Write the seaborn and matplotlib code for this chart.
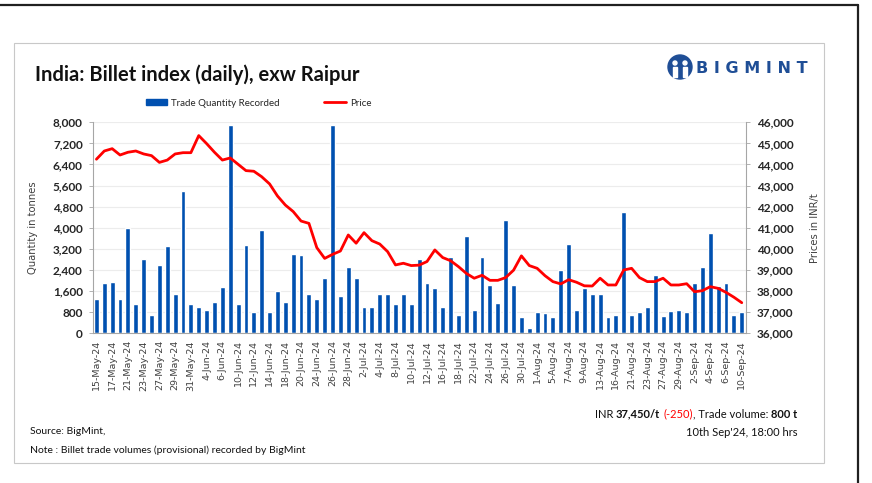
import numpy as np
import pandas as pd
import matplotlib.pyplot as plt
import matplotlib.patches as mpatches
from matplotlib.lines import Line2D
from matplotlib.offsetbox import TextArea, HPacker, AnchoredOffsetbox
import seaborn as sns

# --- DONNÉES ---
dates = [
    "15-May-24", "16-May-24", "17-May-24", "20-May-24", "21-May-24", "22-May-24", "23-May-24",
    "24-May-24", "27-May-24", "28-May-24", "29-May-24", "30-May-24", "31-May-24", "3-Jun-24",
    "4-Jun-24", "5-Jun-24", "6-Jun-24", "7-Jun-24", "10-Jun-24", "11-Jun-24", "12-Jun-24",
    "13-Jun-24", "14-Jun-24", "17-Jun-24", "18-Jun-24", "19-Jun-24", "20-Jun-24", "21-Jun-24",
    "24-Jun-24", "25-Jun-24", "26-Jun-24", "27-Jun-24", "28-Jun-24", "1-Jul-24", "2-Jul-24",
    "3-Jul-24", "4-Jul-24", "5-Jul-24", "8-Jul-24", "9-Jul-24", "10-Jul-24", "11-Jul-24",
    "12-Jul-24", "15-Jul-24", "16-Jul-24", "17-Jul-24", "18-Jul-24", "19-Jul-24", "22-Jul-24",
    "23-Jul-24", "24-Jul-24", "25-Jul-24", "26-Jul-24", "29-Jul-24", "30-Jul-24", "31-Jul-24",
    "1-Aug-24", "2-Aug-24", "5-Aug-24", "6-Aug-24", "7-Aug-24", "8-Aug-24", "9-Aug-24",
    "12-Aug-24", "13-Aug-24", "14-Aug-24", "16-Aug-24", "20-Aug-24", "21-Aug-24", "22-Aug-24",
    "23-Aug-24", "26-Aug-24", "27-Aug-24", "28-Aug-24", "29-Aug-24", "30-Aug-24", "2-Sep-24",
    "3-Sep-24", "4-Sep-24", "5-Sep-24", "6-Sep-24", "9-Sep-24", "10-Sep-24",
]

qty = [
    1300, 1900, 1950, 1300, 4000, 1100, 2800, 700, 2600, 3300,
    1500, 5400, 1100, 1000, 900, 1200, 1750, 7900, 1100, 3350,
    800, 3900, 800, 1600, 1200, 3000, 2950, 1500, 1300, 2100,
    7900, 1400, 2500, 2100, 1000, 1000, 1500, 1500, 1100, 1500,
    1100, 2800, 1900, 1700, 1000, 2900, 700, 3700, 900, 2900,
    1850, 1150, 4300, 1850, 600, 200, 800, 780, 600, 2400,
    3400, 900, 1700, 1500, 1480, 600, 700, 4600, 700, 800,
    1000, 2200, 650, 850, 900, 800, 1900, 2500, 3800, 1800,
    1900, 700, 800,
]

price = [
    44250, 44640, 44750, 44450, 44580, 44640, 44500, 44420, 44100, 44210,
    44500, 44560, 44560, 45370, 44990, 44580, 44210, 44310, 44010, 43710,
    43680, 43420, 43080, 42510, 42080, 41770, 41320, 41210, 40060, 39550,
    39740, 39900, 40660, 40270, 40770, 40390, 40230, 39870, 39240, 39320,
    39210, 39230, 39400, 39950, 39590, 39440, 39160, 38840, 38610, 38750,
    38510, 38510, 38640, 38990, 39670, 39210, 39080, 38730, 38450, 38340,
    38540, 38420, 38250, 38240, 38610, 38290, 38290, 39000, 39080, 38640,
    38450, 38450, 38610, 38290, 38290, 38350, 37970, 38020, 38210, 38130,
    37940, 37710, 37450,
]

qty_ticks = [0, 800, 1600, 2400, 3200, 4000, 4800, 5600, 6400, 7200, 8000]
price_ticks = [36000, 37000, 38000, 39000, 40000, 41000, 42000, 43000, 44000, 45000, 46000]

# --- STYLE ---
sns.set_style('white')
NARROW = ['Lato', 'DejaVu Sans']
plt.rcParams['font.family'] = ['DejaVu Sans']

bar_color = '#0050b0'
line_color = '#ff0000'
axis_grey = '#a6a6a6'

fig = plt.figure(figsize=(8.72, 4.83), dpi=100)
ax = fig.add_axes([92.5 / 872, 1 - 333.3 / 483, 653.2 / 872, 211.0 / 483])

df = pd.DataFrame({'date': dates, 'qty': qty, 'price': price})
df['pos'] = np.arange(len(df))

sns.barplot(data=df, x='date', y='qty', color=bar_color, saturation=1,
            width=0.62, ax=ax, zorder=2)
ax.set_ylim(0, 8000)
ax.set_xlim(-0.5, len(df) - 0.5)
ax.set_yticks(qty_ticks)
ax.set_yticklabels([f"{v:,}" for v in qty_ticks], family=NARROW, fontsize=8.5,
                   fontweight='bold')
ax.yaxis.grid(True, color='#ececec', lw=0.8, zorder=0)
ax.set_axisbelow(True)
ax.set_xlabel('')
ax.set_ylabel('Quantity in tonnes', fontsize=7.2, color='#404040', labelpad=11)

# étiquettes x : une sur deux, ticks entre les barres
ax.set_xticks(df['pos'][::2])
ax.set_xticklabels(df['date'][::2], rotation=90, fontsize=6.8, color='#404040')
ax.set_xticks(df['pos'] - 0.5, minor=True)
ax.tick_params(axis='x', which='major', length=0, pad=5)
ax.tick_params(axis='x', which='minor', length=3, color=axis_grey, width=0.6)
ax.tick_params(axis='y', length=3, color=axis_grey, width=0.6, pad=4)

for s in ['top', 'right']:
    ax.spines[s].set_visible(False)
for s in ['left', 'bottom']:
    ax.spines[s].set_color(axis_grey)
    ax.spines[s].set_linewidth(0.8)

ax2 = ax.twinx()
sns.lineplot(data=df, x='pos', y='price', color=line_color, lw=2, ax=ax2)
ax2.set_ylim(36000, 46000)
ax2.set_yticks(price_ticks)
ax2.set_yticklabels([f"{v:,}" for v in price_ticks], family=NARROW, fontsize=8.5,
                    fontweight='bold')
ax2.set_ylabel('Prices in INR/t', fontsize=7.2, color='#404040', labelpad=12)
ax2.tick_params(axis='y', length=3, color=axis_grey, width=0.6, pad=5)
for s in ['top', 'left', 'bottom']:
    ax2.spines[s].set_visible(False)
ax2.spines['right'].set_color(axis_grey)
ax2.spines['right'].set_linewidth(0.8)

# --- CADRES ---
H = 483.0
W = 872.0
fig.add_artist(mpatches.Rectangle((14 / W, 1 - 463 / H), 810 / W, 420 / H,
                                  transform=fig.transFigure, fill=False,
                                  edgecolor='#c8c8c8', lw=0.8))
fig.add_artist(Line2D([0, 858 / W], [1 - 5 / H, 1 - 5 / H], transform=fig.transFigure,
                      color='#202020', lw=1.6))
fig.add_artist(Line2D([858 / W, 858 / W], [0, 1 - 5 / H], transform=fig.transFigure,
                      color='#202020', lw=1.6))

# --- TITRE & LOGO ---
fig.text(35 / W, 1 - 75 / H, 'India: Billet index (daily), exw Raipur', family=NARROW,
         fontsize=14.5, fontweight='bold', color='#111111', va='center', ha='left')
logo_blue = '#1f4e96'
fig.text(808 / W, 1 - 69 / H, 'B I G M I N T', family=['DejaVu Sans'], fontsize=11.5,
         fontweight='bold', color=logo_blue, va='center', ha='right')
fig.add_artist(mpatches.Ellipse((680 / W, 1 - 67 / H), 24 / W, 24 / H,
                                transform=fig.transFigure, color=logo_blue))
for dx in (-5, 5):
    fig.add_artist(mpatches.Ellipse(((680 + dx) / W, 1 - 63 / H), 4 / W, 4 / H,
                                    transform=fig.transFigure, color='white'))
    fig.add_artist(mpatches.Rectangle(((680 + dx - 2) / W, 1 - 77 / H), 4 / W, 10 / H,
                                      transform=fig.transFigure, color='white'))

# --- LÉGENDE ---
handles = [mpatches.Patch(color=bar_color, label='Trade Quantity Recorded'),
           Line2D([], [], color=line_color, lw=2, label='Price')]
fig.legend(handles=handles, loc='center left', bbox_to_anchor=(137 / W, 1 - 103 / H),
           ncol=2, frameon=False, prop={'family': NARROW, 'size': 7},
           handlelength=2.2, handleheight=0.6, handletextpad=0.4, columnspacing=4.6)

# --- PIED DE PAGE ---
fig.text(30 / W, 1 - 432 / H, 'Source: BigMint,', family=NARROW, fontsize=7.5,
         va='center', color='#111111')
fig.text(30 / W, 1 - 450 / H, 'Note : Billet trade volumes (provisional) recorded by BigMint',
         family=NARROW, fontsize=7.5, va='center', color='#111111')

parts = [("INR ", 'normal', '#111111'), ("37,450/t", 'bold', '#111111'),
         (" ", 'normal', '#111111'), ("(-250)", 'normal', '#ff0000'),
         (", Trade volume: ", 'normal', '#111111'), ("800 t", 'bold', '#111111')]
areas = [TextArea(t, textprops=dict(family=NARROW, fontsize=8, fontweight=w, color=c))
         for t, w, c in parts]
box = HPacker(children=areas, align='baseline', pad=0, sep=0)
fig.add_artist(AnchoredOffsetbox(loc='center right', child=box, frameon=False, pad=0,
                                 borderpad=0, bbox_to_anchor=(797 / W, 1 - 414 / H),
                                 bbox_transform=fig.transFigure))
fig.text(797 / W, 1 - 432 / H, "10th Sep'24, 18:00 hrs", family=NARROW, fontsize=8,
         va='center', ha='right', color='#111111')

plt.savefig('out.png', dpi=100)
plt.close()
